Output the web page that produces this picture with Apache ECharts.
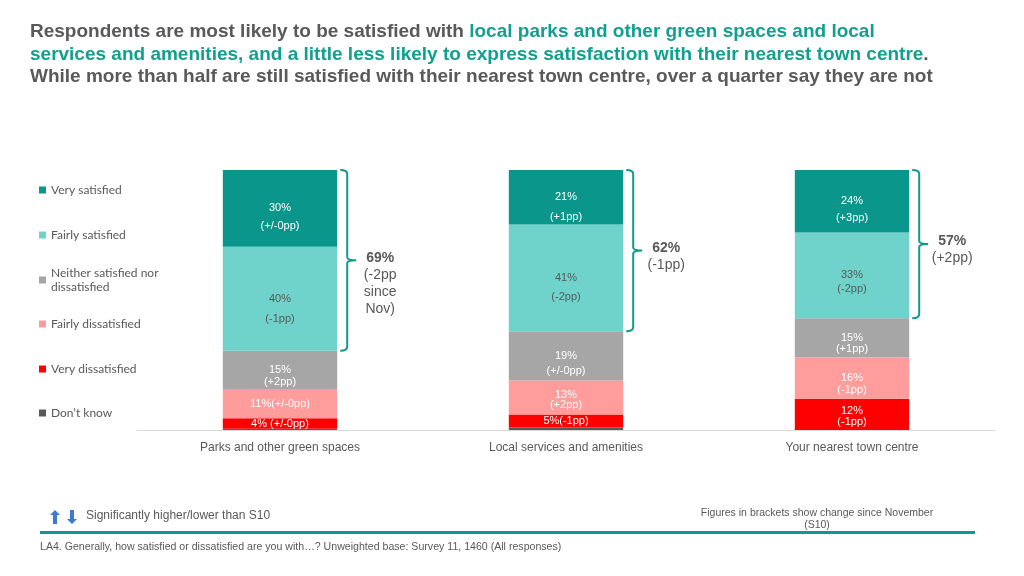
<!DOCTYPE html>
<html>
<head>
<meta charset="utf-8">
<script src="https://cdn.jsdelivr.net/npm/echarts@6/dist/echarts.min.js"></script>
<style>html,body{margin:0;padding:0;background:#fff;}#c{width:1024px;height:576px;}</style>
</head>
<body>
<div id="c"></div>
<script>
const categories = ['Parks and other green spaces', 'Local services and amenities', 'Your nearest town centre'];
const verySatisfied = [30, 21, 24];
const fairlySatisfied = [40, 41, 33];
const neither = [15, 19, 15];
const fairlyDissatisfied = [11, 13, 16];
const veryDissatisfied = [4, 5, 12];
const dontKnow = [0.5, 1, 0];
const vsChange = ['(+/-0pp)', '(+1pp)', '(+3pp)'];
const fsChange = ['(-1pp)', '(-2pp)', '(-2pp)'];
const nChange = ['(+2pp)', '(+/-0pp)', '(+1pp)'];
const fdChange = ['(+/-0pp)', '(+2pp)', '(-1pp)'];
const vdChange = ['(+/-0pp)', '(-1pp)', '(-1pp)'];
const netSatisfied = ['69%', '62%', '57%'];
const netChange = ['(-2pp\nsince\nNov)', '(-1pp)', '(+2pp)'];
const legendNames = ['Very satisfied', 'Fairly satisfied', 'Neither satisfied nor dissatisfied', 'Fairly dissatisfied', 'Very dissatisfied', 'Don\u2019t know'];

const GREY = '#595959';
const TEAL = '#13998c';
const FONT = '"Liberation Sans", Arial, sans-serif';

function seg(name, values, color, changes, textColor, layout) {
  return {
    name: name, type: 'bar', stack: 'total', barWidth: '40%',
    itemStyle: { color: color },
    label: { show: !!changes, position: 'inside', color: textColor, fontSize: 11, fontFamily: FONT },
    data: values.map(function (v, i) {
      if (!changes) return v;
      const sep = layout.sep[i];
      const lh = layout.lh[i];
      const dy = layout.dy ? layout.dy[i] : 0;
      return {
        value: v,
        label: {
          formatter: v + '%' + sep + changes[i],
          lineHeight: lh,
          offset: [0, (sep === '\n' ? lh / 2 : 0) + dy]
        }
      };
    })
  };
}

const totals = categories.map(function (c, i) {
  return verySatisfied[i] + fairlySatisfied[i] + neither[i] + fairlyDissatisfied[i] + veryDissatisfied[i] + dontKnow[i];
});
const bracketData = categories.map(function (c, i) {
  return [i, totals[i], totals[i] - verySatisfied[i] - fairlySatisfied[i]];
});

const colors = ['#0a968a', '#6fd3cc', '#a6a6a6', '#ff9c9c', '#ff0000', '#595959'];
const legendCenters = [190, 235, 280, 324, 369, 413];

const legends = legendNames.map(function (n, i) {
  const twoLine = n.indexOf('Neither') === 0;
  return {
    data: [n], orient: 'vertical', left: 39,
    top: twoLine ? legendCenters[i] - 22 : legendCenters[i] - 7,
    padding: 0, itemWidth: 7, itemHeight: 7, itemGap: 4, icon: 'rect',
    selectedMode: false,
    formatter: twoLine ? 'Neither satisfied nor\ndissatisfied' : n,
    textStyle: twoLine
      ? { color: GREY, fontSize: 12, fontFamily: 'Lato, sans-serif', lineHeight: 14, padding: [16, 0, 0, 0] }
      : { color: GREY, fontSize: 12, fontFamily: 'Lato, sans-serif', lineHeight: 14 }
  };
});

const chart = echarts.init(document.getElementById('c'));
chart.setOption({
  animation: false,
  color: colors,
  title: {
    left: 30, top: 21, padding: 0,
    text: '{g|Respondents are most likely to be satisfied with }{t|local parks and other green spaces and local\nservices and amenities, and a little less likely to express satisfaction with their nearest town centre}{g|.}\n{g|While more than half are still satisfied with their nearest town centre, over a quarter say they are not}',
    textStyle: {
      rich: {
        g: { color: GREY, fontSize: 19, fontWeight: 'bold', fontFamily: FONT, lineHeight: 22.5 },
        t: { color: '#11a08f', fontSize: 19, fontWeight: 'bold', fontFamily: FONT, lineHeight: 22.5 }
      }
    }
  },
  legend: legends,
  grid: { left: 137, right: 29, top: 170, height: 260 },
  xAxis: {
    type: 'category', data: categories,
    axisLine: { lineStyle: { color: '#d9d9d9', width: 1 } },
    axisTick: { show: false },
    axisLabel: { color: GREY, fontSize: 12, fontFamily: FONT, margin: 12 }
  },
  yAxis: { type: 'value', min: 0, max: 100, show: false, splitLine: { show: false } },
  series: [
    seg('Don\u2019t know', dontKnow, colors[5], null),
    seg('Very dissatisfied', veryDissatisfied, colors[4], vdChange, '#ffffff', { sep: [' ', '', '\n'], lh: [12, 12, 11], dy: [0, 0, -3] }),
    seg('Fairly dissatisfied', fairlyDissatisfied, colors[3], fdChange, '#ffffff', { sep: ['', '\n', '\n'], lh: [12, 10, 12], dy: [0, -3, 0] }),
    seg('Neither satisfied nor dissatisfied', neither, colors[2], nChange, '#ffffff', { sep: ['\n', '\n', '\n'], lh: [12, 15, 11] }),
    seg('Fairly satisfied', fairlySatisfied, colors[1], fsChange, GREY, { sep: ['\n', '\n', '\n'], lh: [20, 19, 14] }),
    seg('Very satisfied', verySatisfied, colors[0], vsChange, '#ffffff', { sep: ['\n', '\n', '\n'], lh: [18, 20, 17] }),
    {
      type: 'custom', name: 'bracket', z: 5, silent: true,
      encode: { x: 0, y: 1 },
      data: bracketData,
      renderItem: function (params, api) {
        const i = api.value(0);
        const topPt = api.coord([i, Math.min(api.value(1), 100)]);
        const botPt = api.coord([i, api.value(2)]);
        const band = api.size([1, 0])[0];
        const bx = topPt[0] + band * 0.2 + 10;
        const top = topPt[1];
        const bot = botPt[1];
        const mid = (top + bot) / 2;
        const d = 'M' + (bx - 7) + ' ' + top + ' Q' + bx + ' ' + top + ' ' + bx + ' ' + (top + 4) +
          ' L' + bx + ' ' + (mid - 3) + ' Q' + bx + ' ' + mid + ' ' + (bx + 9) + ' ' + mid +
          ' M' + (bx + 9) + ' ' + mid + ' Q' + bx + ' ' + mid + ' ' + bx + ' ' + (mid + 3) +
          ' L' + bx + ' ' + (bot - 4) + ' Q' + bx + ' ' + bot + ' ' + (bx - 7) + ' ' + bot;
        return {
          type: 'group',
          children: [
            { type: 'path', shape: { pathData: d }, style: { stroke: TEAL, lineWidth: 2, fill: null } },
            { type: 'text', style: { text: netSatisfied[i], x: bx + 33, y: mid - 11, align: 'center', verticalAlign: 'top', fontSize: 14, fontWeight: 'bold', fontFamily: FONT, lineHeight: 17, fill: GREY } },
            { type: 'text', style: { text: netChange[i], x: bx + 33, y: mid + 6, align: 'center', verticalAlign: 'top', fontSize: 14, fontFamily: FONT, lineHeight: 17, fill: GREY } }
          ]
        };
      }
    }
  ],
  graphic: [
    { type: 'polygon', shape: { points: [[55, 510], [60, 515], [57, 515], [57, 524], [53, 524], [53, 515], [50, 515]] }, style: { fill: '#3b7bd0' } },
    { type: 'polygon', shape: { points: [[72, 524], [77, 519], [74, 519], [74, 510], [70, 510], [70, 519], [67, 519]] }, style: { fill: '#3b7bd0' } },
    { type: 'text', style: { text: 'Significantly higher/lower than S10', x: 86, y: 516, verticalAlign: 'middle', fontSize: 12, fontFamily: FONT, fill: GREY } },
    { type: 'text', style: { text: 'Figures in brackets show change since November\n(S10)', x: 817, y: 507, align: 'center', verticalAlign: 'top', fontSize: 10.5, lineHeight: 12, fontFamily: FONT, fill: GREY } },
    { type: 'rect', shape: { x: 40, y: 531, width: 935, height: 3 }, style: { fill: TEAL } },
    { type: 'text', style: { text: 'LA4. Generally, how satisfied or dissatisfied are you with\u2026? Unweighted base: Survey 11, 1460 (All responses)', x: 40, y: 547, verticalAlign: 'middle', fontSize: 10.6, fontFamily: FONT, fill: GREY } }
  ]
});
</script>
</body>
</html>
